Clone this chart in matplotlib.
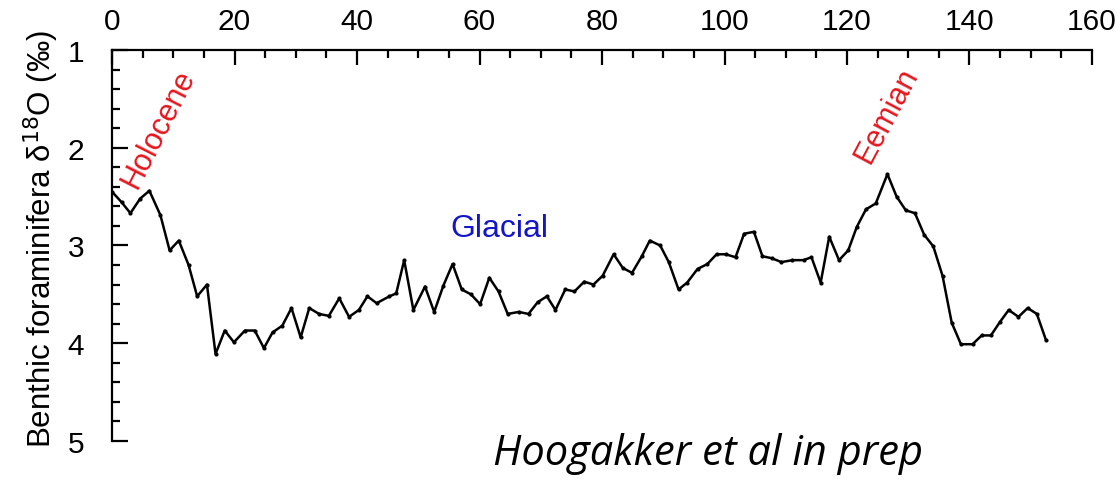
import matplotlib
matplotlib.use("Agg")
import matplotlib.pyplot as plt
from matplotlib.ticker import MultipleLocator

# Age (ka) and benthic d18O (permil)
age = [0.0, 1.6, 3.0, 4.6, 6.1, 7.9, 9.4, 10.9, 12.5, 13.9, 15.5, 16.9, 18.4, 19.9,
       21.7, 23.3, 24.8, 26.2, 27.8, 29.3, 30.8, 32.2, 33.8, 35.4, 37.1, 38.7, 40.3,
       41.7, 43.2, 45.3, 46.4, 47.7, 49.2, 51.1, 52.6, 54.1, 55.6, 57.1, 58.6, 60.1,
       61.6, 63.1, 64.6, 66.4, 68.0, 69.5, 71.0, 72.4, 74.0, 75.5, 77.1, 78.6, 80.1,
       81.9, 83.4, 84.9, 86.5, 87.8, 89.5, 90.9, 92.5, 93.9, 95.6, 97.2, 98.7, 100.2,
       101.8, 103.2, 104.8, 106.2, 107.7, 109.3, 111.1, 112.9, 114.2, 115.7, 117.1,
       118.7, 120.2, 121.6, 123.1, 124.7, 126.6, 128.1, 129.6, 131.1, 132.6, 134.1,
       135.6, 137.1, 138.6, 140.5, 142.0, 143.5, 145.0, 146.4, 148.0, 149.5, 151.0,
       152.5]
d18o = [2.45, 2.56, 2.67, 2.52, 2.44, 2.69, 3.05, 2.95, 3.20, 3.52, 3.40, 4.11, 3.87, 3.99,
        3.87, 3.87, 4.05, 3.89, 3.82, 3.64, 3.94, 3.64, 3.70, 3.72, 3.54, 3.73, 3.66,
        3.52, 3.59, 3.52, 3.49, 3.15, 3.66, 3.42, 3.68, 3.41, 3.19, 3.45, 3.50, 3.60,
        3.33, 3.47, 3.70, 3.68, 3.70, 3.58, 3.52, 3.66, 3.45, 3.47, 3.37, 3.40, 3.31,
        3.09, 3.23, 3.28, 3.11, 2.95, 3.00, 3.17, 3.45, 3.38, 3.24, 3.19, 3.09, 3.09,
        3.12, 2.88, 2.86, 3.11, 3.13, 3.17, 3.15, 3.15, 3.12, 3.38, 2.91,
        3.15, 3.05, 2.81, 2.63, 2.57, 2.27, 2.50, 2.64, 2.67, 2.89, 3.01,
        3.31, 3.79, 4.01, 4.01, 3.92, 3.92, 3.78, 3.66, 3.73, 3.64, 3.70,
        3.97]

x_ticks = [0, 20, 40, 60, 80, 100, 120, 140, 160]
y_ticks = [1, 2, 3, 4, 5]

plt.rcParams['font.family'] = ['Liberation Sans', 'DejaVu Sans']
fig = plt.figure(figsize=(11.17, 4.81), dpi=100)
ax = fig.add_axes([0.1003, 0.0811, 0.8773, 0.8129])

ax.plot(age, d18o, color='black', lw=1.8, marker='o', ms=2.0, zorder=3)

ax.set_xlim(0, 160)
ax.set_ylim(5, 1)
ax.xaxis.tick_top()
ax.set_xticks(x_ticks)
ax.set_yticks(y_ticks)
ax.xaxis.set_minor_locator(MultipleLocator(5))
ax.yaxis.set_minor_locator(MultipleLocator(0.2))

for s in ['right', 'bottom']:
    ax.spines[s].set_visible(False)
for s in ['left', 'top']:
    ax.spines[s].set_linewidth(1.6)

ax.tick_params(axis='x', which='major', direction='in', length=11, width=1.6,
               labelsize=21.5, pad=11, top=True, bottom=False)
ax.tick_params(axis='x', which='minor', direction='in', length=6, width=1.6,
               top=True, bottom=False)
ax.tick_params(axis='y', which='major', direction='in', length=11.5, width=1.6,
               labelsize=21.5, pad=20)
ax.tick_params(axis='y', which='minor', direction='in', length=6, width=1.6)

ax.set_ylabel('Benthic foraminifera δ$^{18}$O (‰)', fontsize=22.5)
ax.yaxis.set_label_coords(-0.052, 0.52)

ax.text(7.6, 1.8, 'Holocene', color='#e8141c', fontsize=22, rotation=63,
        ha='center', va='center')
ax.text(126.5, 1.66, 'Eemian', color='#e8141c', fontsize=22, rotation=62,
        ha='center', va='center')
ax.text(63.3, 2.82, 'Glacial', color='#1414c8', fontsize=23,
        ha='center', va='center')

fig.text(0.634, 0.033, 'Hoogakker et al in prep', fontsize=30, style='italic',
         ha='center', va='baseline', family='Open Sans')

fig.savefig('out.png', dpi=100)
